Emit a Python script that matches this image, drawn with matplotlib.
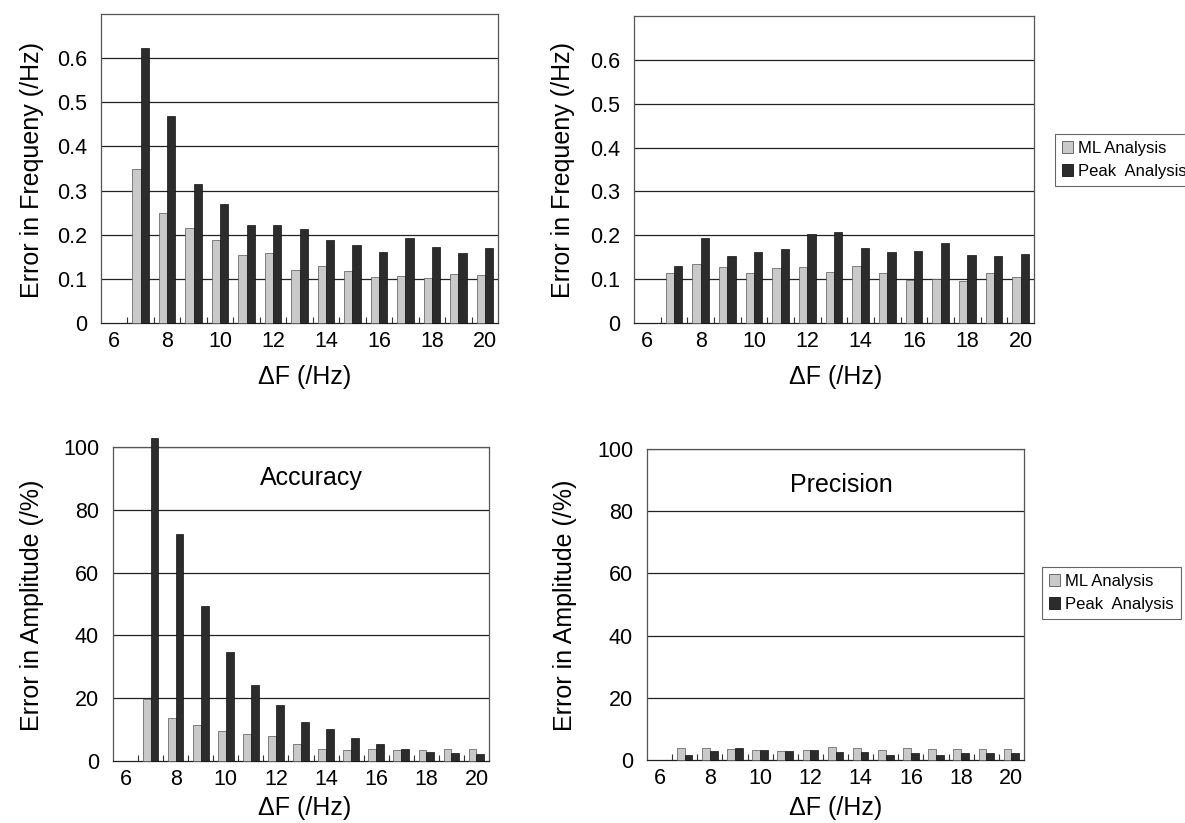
import numpy as np
import matplotlib
matplotlib.use("Agg")
import matplotlib.pyplot as plt
from matplotlib.patches import Patch

plt.rcParams['font.family'] = ['Liberation Sans', 'DejaVu Sans']

# ---------------- data ----------------
categories = list(range(6, 21))          # x-axis categories (ΔF /Hz)
delta_f = list(range(7, 21))             # categories with data
tick_labels = ['6', '8', '10', '12', '14', '16', '18', '20']

freq_acc_ml = [0.350, 0.249, 0.216, 0.188, 0.155, 0.158, 0.121, 0.129, 0.118, 0.104, 0.106, 0.103, 0.112, 0.109]
freq_acc_peak = [0.624, 0.468, 0.314, 0.269, 0.222, 0.222, 0.213, 0.187, 0.176, 0.161, 0.192, 0.172, 0.158, 0.170]

freq_prec_ml = [0.114, 0.135, 0.128, 0.114, 0.126, 0.128, 0.117, 0.131, 0.113, 0.097, 0.101, 0.095, 0.114, 0.106]
freq_prec_peak = [0.129, 0.193, 0.152, 0.163, 0.169, 0.204, 0.207, 0.172, 0.162, 0.165, 0.182, 0.156, 0.152, 0.158]

amp_acc_ml = [19.6, 13.8, 11.4, 9.7, 8.7, 7.9, 5.5, 3.8, 3.4, 3.7, 3.4, 3.4, 3.7, 3.7]
amp_acc_peak = [102.9, 72.3, 49.4, 34.6, 24.3, 17.8, 12.4, 10.3, 7.4, 5.5, 3.7, 3.0, 2.6, 2.1]

amp_prec_ml = [3.9, 3.9, 3.6, 3.3, 2.9, 3.2, 4.2, 3.8, 3.3, 3.8, 3.4, 3.4, 3.6, 3.6]
amp_prec_peak = [1.5, 3.0, 3.9, 3.3, 2.9, 3.2, 2.6, 2.6, 1.7, 2.1, 1.7, 2.1, 2.1, 2.1]

series_names = ['ML Analysis', 'Peak  Analysis']

# ---------------- style ----------------
W, H = 1185, 823
ML_COLOR = '#c9c9c9'
PEAK_COLOR = '#2c2c2c'
TICK_FS = 15.5
LABEL_FS = 18

fig = plt.figure(figsize=(W / 100, H / 100), dpi=100)


def px_axes(left, top, right, bottom):
    return fig.add_axes([left / W, 1 - bottom / H, (right - left) / W, (bottom - top) / H])


def draw_panel(ax, ml, peak, ymax, yticks, yfmt):
    pos = np.array([categories.index(d) for d in delta_f], dtype=float)
    bw = 0.31
    ax.bar(pos - bw / 2, ml, width=bw, color=ML_COLOR, edgecolor='#555555',
           linewidth=0.5, zorder=3, clip_on=False)
    ax.bar(pos + bw / 2, peak, width=bw, color=PEAK_COLOR, edgecolor='#111111',
           linewidth=0.5, zorder=3, clip_on=False)
    ax.set_xlim(-0.5, len(categories) - 0.5)
    ax.set_ylim(0, ymax)
    ax.set_yticks(yticks)
    ax.set_yticklabels([yfmt(v) for v in yticks])
    for v in yticks[1:]:
        ax.axhline(v, color='#222222', linewidth=0.9, zorder=1)
    # category labels at centers
    lab_pos = [categories.index(int(t)) for t in tick_labels]
    ax.set_xticks(lab_pos)
    ax.set_xticklabels(tick_labels)
    ax.set_xticks(np.arange(0.5, len(categories) - 1, 1.0), minor=True)
    ax.tick_params(axis='x', which='major', length=0, pad=6, labelsize=TICK_FS)
    ax.tick_params(axis='x', which='minor', length=4, width=0.8, direction='in', color='#333333')
    ax.tick_params(axis='y', which='both', length=0, pad=10, labelsize=TICK_FS)
    for s in ax.spines.values():
        s.set_color('#555555')
        s.set_linewidth(0.9)
    ax.spines['bottom'].set_color('#222222')


ax1 = px_axes(101, 14, 498, 323)
draw_panel(ax1, freq_acc_ml, freq_acc_peak, 0.7, [0, 0.1, 0.2, 0.3, 0.4, 0.5, 0.6],
           lambda v: '0' if v == 0 else f'{v:.1f}')
ax2 = px_axes(634, 16, 1034, 323)
draw_panel(ax2, freq_prec_ml, freq_prec_peak, 0.7, [0, 0.1, 0.2, 0.3, 0.4, 0.5, 0.6],
           lambda v: '0' if v == 0 else f'{v:.1f}')
ax3 = px_axes(113, 447, 489, 761)
draw_panel(ax3, amp_acc_ml, amp_acc_peak, 100, [0, 20, 40, 60, 80, 100],
           lambda v: f'{int(v)}')
ax4 = px_axes(647, 449, 1024, 760)
draw_panel(ax4, amp_prec_ml, amp_prec_peak, 100, [0, 20, 40, 60, 80, 100],
           lambda v: f'{int(v)}')


def ftext(x, y, s, **kw):
    fig.text(x / W, 1 - y / H, s, **kw)


# axis labels
ftext(32, 170, 'Error in Frequeny (/Hz)', rotation=90, ha='center', va='center', fontsize=LABEL_FS)
ftext(563, 170, 'Error in Frequeny (/Hz)', rotation=90, ha='center', va='center', fontsize=LABEL_FS)
ftext(32, 605, 'Error in Amplitude (/%)', rotation=90, ha='center', va='center', fontsize=LABEL_FS)
ftext(565, 605, 'Error in Amplitude (/%)', rotation=90, ha='center', va='center', fontsize=LABEL_FS)
ftext(305, 377, 'ΔF (/Hz)', ha='center', va='center', fontsize=LABEL_FS)
ftext(836, 377, 'ΔF (/Hz)', ha='center', va='center', fontsize=LABEL_FS)
ftext(305, 808, 'ΔF (/Hz)', ha='center', va='center', fontsize=LABEL_FS)
ftext(836, 808, 'ΔF (/Hz)', ha='center', va='center', fontsize=LABEL_FS)

# panel titles
ftext(311, 478, 'Accuracy', ha='center', va='center', fontsize=18)
ftext(841, 485, 'Precision', ha='center', va='center', fontsize=18)

# legends
handles = [Patch(facecolor=ML_COLOR, edgecolor='#555555', linewidth=0.6),
           Patch(facecolor=PEAK_COLOR, edgecolor='#111111', linewidth=0.6)]
for (lx, ly) in [(1055, 134), (1042, 567)]:
    leg = fig.legend(handles, series_names, loc='upper left',
                     bbox_to_anchor=(lx / W, 1 - ly / H), fontsize=12,
                     handlelength=0.7, handleheight=0.7, handletextpad=0.3,
                     labelspacing=0.5, borderpad=0.4, borderaxespad=0,
                     fancybox=False, framealpha=1)
    leg.get_frame().set_edgecolor('#666666')
    leg.get_frame().set_linewidth(0.8)

fig.savefig('out.png', dpi=100)
